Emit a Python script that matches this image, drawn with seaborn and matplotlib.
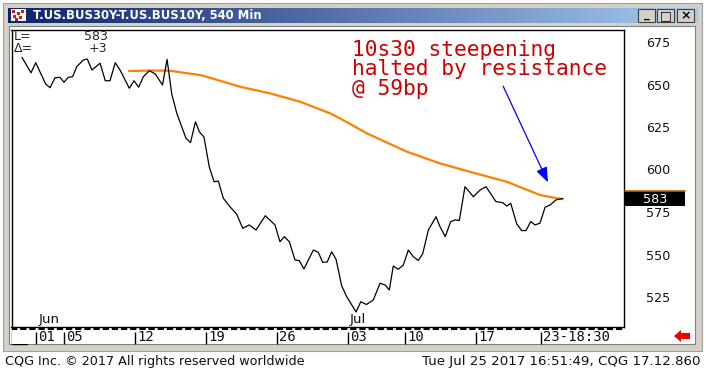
import numpy as np
import matplotlib
matplotlib.use("Agg")
import matplotlib.pyplot as plt
import matplotlib.transforms as mtrans
from matplotlib.patches import Rectangle, Polygon
import seaborn as sns

# ---------------- data ----------------
spread_days = [-0.99, -0.35, -0.02, 0.68, 0.99, 1.34, 1.69, 1.97, 2.27, 2.58, 2.87, 3.33, 3.61, 3.94,
               4.51, 4.88, 5.21, 5.58, 5.92, 6.57, 6.90, 7.23, 7.56, 7.98, 8.40, 8.91, 9.23, 9.56,
               9.91, 10.26, 10.56, 10.88, 11.23, 11.50, 11.83, 12.20, 12.54, 12.84, 13.19, 13.66,
               14.13, 14.56, 15.02, 15.49, 16.15, 16.83, 17.18, 17.49, 17.84, 18.24, 18.54, 18.87,
               19.53, 19.88, 20.19, 20.51, 20.82, 21.13, 21.53, 21.88, 22.54, 22.87, 23.27, 23.75,
               24.23, 24.58, 24.88, 25.16, 25.51, 25.87, 26.22, 26.57, 26.92, 27.23, 27.63, 28.17,
               28.45, 28.82, 29.20, 29.53, 29.81, 30.21, 30.80, 31.27, 31.69, 31.97, 32.39, 32.87,
               33.15, 33.43, 33.85, 34.20, 34.51, 34.84, 35.14, 35.49, 35.85, 36.20, 36.62, 37.09]
spread_bp = [666.0, 656.9, 662.8, 650.3, 648.1, 654.0, 654.2, 651.3, 654.2, 654.6, 660.5, 664.4, 665.0,
             658.5, 662.5, 652.2, 652.2, 662.8, 658.5, 647.8, 652.2, 648.4, 654.6, 658.1, 656.2, 649.7,
             664.8, 644.4, 633.2, 625.2, 618.4, 615.8, 628.1, 622.2, 619.1, 601.6, 592.8, 593.2, 583.1,
             578.1, 573.8, 565.4, 567.4, 564.4, 572.8, 567.4, 557.5, 560.5, 557.5, 546.8, 546.4, 541.5,
             552.6, 551.3, 545.4, 545.6, 551.6, 547.2, 531.5, 525.2, 516.2, 522.2, 520.6, 523.2, 533.1,
             532.1, 529.1, 543.2, 541.3, 543.8, 552.6, 548.7, 546.5, 550.4, 564.4, 572.2, 566.4, 560.5,
             569.3, 570.4, 570.0, 589.9, 584.0, 587.9, 589.9, 586.4, 581.1, 580.5, 578.5, 580.1, 568.1,
             564.1, 564.1, 569.4, 567.4, 568.4, 577.8, 579.1, 582.1, 583.0]

ma_days = [6.55, 8.03, 9.44, 10.49, 11.55, 12.61, 14.37, 16.48, 18.59, 20.70, 21.76, 23.29,
           26.11, 28.45, 30.80, 33.15, 35.49, 37.09]
ma_bp = [657.9, 658.2, 658.1, 656.8, 655.6, 653.1, 648.7, 644.8, 639.9, 633.1, 628.5, 621.3,
         610.5, 603.6, 598.1, 592.8, 585.0, 582.5]

tick_days = [0, 2, 7, 12, 17, 22, 26, 31, 35.55]
tick_labels = ["01", "05", "12", "19", "26", "03", "10", "17", "23-18:30"]
month_days = [0.15, 22.1]
month_labels = ["Jun", "Jul"]
y_ticks = [525, 550, 575, 600, 625, 650, 675]
last_value = 583
last_change = "+3"

title = "T.US.BUS30Y-T.US.BUS10Y, 540 Min"
note = "10s30 steepening\nhalted by resistance\n@ 59bp"
footer_left = "CQG Inc. \u00a9 2017 All rights reserved worldwide"
footer_right = "Tue Jul 25 2017 16:51:49, CQG 17.12.860"

# ---------------- figure ----------------
sns.set_style("white")
plt.rcParams["font.family"] = ["DejaVu Sans"]

W, H = 706, 373
fig = plt.figure(figsize=(W / 100, H / 100), dpi=100)
fig.patch.set_facecolor("white")


def frac(x0, y0, x1, y1):
    return [x0 / W, 1 - y1 / H, (x1 - x0) / W, (y1 - y0) / H]


# background (pixel coordinates)
bg = fig.add_axes([0, 0, 1, 1], zorder=0)
bg.set_xlim(0, W)
bg.set_ylim(H, 0)
bg.axis("off")

gray = "#d4d0c8"
bg.add_patch(Rectangle((3, 3), 699, 348, facecolor=gray, edgecolor="#a0a0a0", lw=0.8))
bg.add_patch(Rectangle((9, 26), 686, 318, facecolor="white", edgecolor="#808080", lw=0.8))

# title bar gradient
grad = np.linspace(0, 1, 256)
c0 = np.array([10, 36, 106]) / 255
c1 = np.array([166, 202, 240]) / 255
cols = c0[None, :] * (1 - grad[:, None]) + c1[None, :] * grad[:, None]
bg.imshow(cols[None, :, :], extent=(8, 698, 23, 8), aspect="auto", zorder=1)
bg.set_xlim(0, W)
bg.set_ylim(H, 0)
bg.text(33, 15.5, title, color="white", fontsize=8.4, fontweight="bold", va="center", ha="left", zorder=3)

# title icon
bg.add_patch(Rectangle((11, 9), 15, 12, facecolor="white", edgecolor="none", zorder=2))
for (ix, iy) in [(12, 10), (17, 12), (21, 10), (13, 15), (19, 16), (15, 18)]:
    bg.add_patch(Rectangle((ix, iy), 3, 3, facecolor="#d01818", edgecolor="none", zorder=3))

# window buttons
for bx, glyph in [(638, "_"), (657, "\u25a1"), (677, "\u00d7")]:
    bg.add_patch(Rectangle((bx, 9), 17, 13, facecolor=gray, edgecolor="#404040", lw=0.8, zorder=2))
    bg.text(bx + 8.5, 15.5, glyph, fontsize=9 if glyph != "_" else 8, fontweight="bold",
            ha="center", va="center", color="black", zorder=3)

# red arrow at bottom right
bg.add_patch(Polygon([[674, 336], [681, 330], [681, 333], [690, 333], [690, 339], [681, 339], [681, 342]],
                     closed=True, facecolor="#ee0000", edgecolor="none", zorder=2))

# small box bottom left
bg.add_patch(Rectangle((12, 327), 15, 17, facecolor="white", edgecolor="black", lw=1, zorder=2))

# footer
bg.text(5, 361, footer_left, fontsize=9.2, ha="left", va="center", color="#101010")
bg.text(701, 361, footer_right, fontsize=9.6, ha="right", va="center", color="#101010")

# ---------------- main chart ----------------
x0_px, x1_px, y0_px, y1_px = 11.5, 623.5, 30, 327
ax = fig.add_axes(frac(x0_px, y0_px, x1_px, y1_px), zorder=2)
ax.set_facecolor("white")

sns.lineplot(x=ma_days, y=ma_bp, ax=ax, color="#ff7f00", lw=1.6, estimator=None, sort=False)
sns.lineplot(x=spread_days, y=spread_bp, ax=ax, color="black", lw=0.9, estimator=None, sort=False)

px_per_day = 14.2
xmin = (x0_px - 36) / px_per_day
xmax = (x1_px - 36) / px_per_day
ax.set_xlim(xmin, xmax)
ax.set_ylim(675 - (y1_px - 42) / 1.7, 675 + (42 - y0_px) / 1.7)
ax.set_xlabel("")
ax.set_ylabel("")

for sp in ax.spines.values():
    sp.set_visible(True)
    sp.set_color("black")
    sp.set_linewidth(1.0)

ax.set_xticks([])
ax.set_yticks(y_ticks)
ax.set_yticklabels([str(v) for v in y_ticks])
ax.tick_params(axis="y", left=False, labelleft=False, right=False, labelright=True,
               length=0, pad=16, labelsize=9.2, labelcolor="#101020")

# month labels
btrans = mtrans.blended_transform_factory(ax.transData, ax.transAxes)
for d, m in zip(month_days, month_labels):
    ax.text(d, 0.025, m, transform=btrans, fontsize=9.6, ha="left", va="center", color="#101010")

# L= / delta block
ax.text(0.004, 0.978, "L=", transform=ax.transAxes, fontsize=9, ha="left", va="center")
ax.text(0.157, 0.978, str(last_value), transform=ax.transAxes, fontsize=9, ha="right", va="center")
ax.text(0.004, 0.937, "\u0394=", transform=ax.transAxes, fontsize=9, ha="left", va="center")
ax.text(0.157, 0.937, last_change, transform=ax.transAxes, fontsize=9, ha="right", va="center")

# annotation
ax.text(0.557, 0.968, note, transform=ax.transAxes, fontsize=15.3, family="DejaVu Sans Mono",
        color="#cc0000", ha="left", va="top", linespacing=0.97)
ax.annotate("", xy=(36.05, 592.5), xytext=(32.9, 649.0),
            arrowprops=dict(arrowstyle="-|>,head_length=0.9,head_width=0.35", color="#0000ff", lw=0.9,
                            shrinkA=0, shrinkB=0))

# last value tag in right panel
rtrans = mtrans.blended_transform_factory(ax.transAxes, ax.transData)
tag_w = 60 / (x1_px - x0_px)
ax.add_patch(Rectangle((1.002, last_value - 4.4), tag_w, 8.9, transform=rtrans, facecolor="black",
                       edgecolor="none", clip_on=False, zorder=5))
ax.plot([1.002, 1.002 + tag_w], [last_value + 4.6, last_value + 4.6], transform=rtrans,
        color="#c06000", lw=1.2, clip_on=False, zorder=6)
ax.text(1.002 + tag_w / 2, last_value - 0.8, str(last_value), transform=rtrans, color="white",
        fontsize=9.2, ha="center", va="center", zorder=7)

# ---------------- date strip ----------------
ax2 = fig.add_axes(frac(x0_px, y1_px, x1_px, 344), zorder=1)
ax2.set_xlim(xmin, xmax)
ax2.set_ylim(0, 1)
ax2.set_facecolor("white")
for sp in ax2.spines.values():
    sp.set_visible(False)
ax2.plot([xmin, xmax], [0.88, 0.88], color="black", lw=1.5, ls=(0, (3.0, 1.4)), solid_capstyle="butt")
ax2.set_yticks([])
ax2.set_xticks(tick_days)
ax2.set_xticklabels([""] * len(tick_days))
ax2.tick_params(axis="x", direction="in", length=9, width=1.0, color="black", bottom=True)
for d, lab in zip(tick_days, tick_labels):
    ax2.annotate(lab, xy=(d, 0.40), xycoords="data", xytext=(1.4, 0), textcoords="offset points",
                 fontsize=10, family="DejaVu Sans Mono", ha="left", va="center", color="#101010")

fig.savefig("out.png", dpi=100, facecolor="white")
